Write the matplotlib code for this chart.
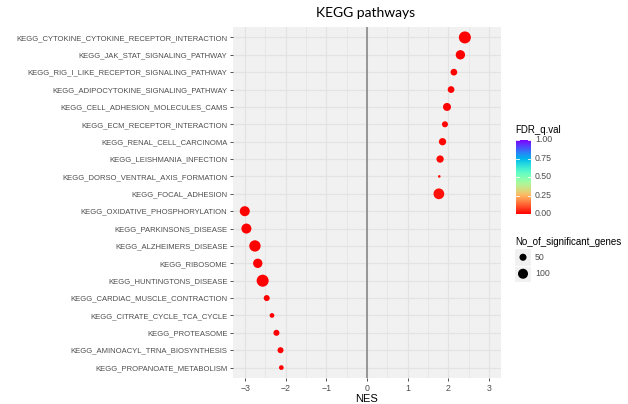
import matplotlib
matplotlib.use('Agg')
import matplotlib.pyplot as plt
import numpy as np
from matplotlib.colors import Normalize

# pathway enrichment results (top to bottom)
pathways = [
    'KEGG_CYTOKINE_CYTOKINE_RECEPTOR_INTERACTION',
    'KEGG_JAK_STAT_SIGNALING_PATHWAY',
    'KEGG_RIG_I_LIKE_RECEPTOR_SIGNALING_PATHWAY',
    'KEGG_ADIPOCYTOKINE_SIGNALING_PATHWAY',
    'KEGG_CELL_ADHESION_MOLECULES_CAMS',
    'KEGG_ECM_RECEPTOR_INTERACTION',
    'KEGG_RENAL_CELL_CARCINOMA',
    'KEGG_LEISHMANIA_INFECTION',
    'KEGG_DORSO_VENTRAL_AXIS_FORMATION',
    'KEGG_FOCAL_ADHESION',
    'KEGG_OXIDATIVE_PHOSPHORYLATION',
    'KEGG_PARKINSONS_DISEASE',
    'KEGG_ALZHEIMERS_DISEASE',
    'KEGG_RIBOSOME',
    'KEGG_HUNTINGTONS_DISEASE',
    'KEGG_CARDIAC_MUSCLE_CONTRACTION',
    'KEGG_CITRATE_CYCLE_TCA_CYCLE',
    'KEGG_PROTEASOME',
    'KEGG_AMINOACYL_TRNA_BIOSYNTHESIS',
    'KEGG_PROPANOATE_METABOLISM',
]
nes = [2.41, 2.30, 2.14, 2.07, 1.97, 1.92, 1.86, 1.80, 1.78, 1.77,
       -3.01, -2.97, -2.76, -2.69, -2.57, -2.47, -2.34, -2.23, -2.13, -2.11]
fdr_q = [0.0, 0.0, 0.0, 0.0, 0.0, 0.005, 0.01, 0.015, 0.02, 0.02,
         0.0, 0.0, 0.0, 0.0, 0.0, 0.0, 0.0, 0.0, 0.0, 0.0]
n_genes = [144, 87, 45, 45, 64, 36, 53, 53, 7, 115,
           100, 100, 128, 87, 144, 36, 22, 36, 36, 22]
size_breaks = [50, 100]
fdr_ticks = [0.0, 0.25, 0.5, 0.75, 1.0]

W, H = 628, 404
TXT = '#4D4D4D'
PANEL_BG = '#F1F1F1'
GRID = '#E3E3E3'
SANS = ['Liberation Sans', 'DejaVu Sans']


def area(n):
    # marker area in pt^2, diameter grows with sqrt(count)
    return 0.52 * np.asarray(n, dtype=float)


def fx(px):
    return px / W


def fy(py):
    return 1 - py / H


fig = plt.figure(figsize=(W / 100, H / 100), dpi=100)
ax = fig.add_axes([fx(233), fy(378), fx(501) - fx(233), fy(27) - fy(378)])

cmap = plt.get_cmap('rainbow_r')
norm = Normalize(0, 1)
ypos = np.arange(len(pathways))

ax.set_facecolor(PANEL_BG)
for v in np.arange(-3, 3.01, 1):
    ax.axvline(v, color=GRID, lw=0.9, zorder=0)
for v in np.arange(-2.5, 2.51, 1):
    ax.axvline(v, color=GRID, lw=0.5, zorder=0)
for y in ypos:
    ax.axhline(y, color=GRID, lw=0.9, zorder=0)
ax.axvline(0, color='#888888', lw=1.2, zorder=1)

ax.scatter(nes, ypos, s=area(n_genes), c=fdr_q, cmap=cmap, norm=norm,
           edgecolors='none', zorder=3)

ax.set_xlim(-3.3, 3.3)
ax.set_ylim(len(pathways) - 0.4, -0.6)
ax.set_xticks([-3, -2, -1, 0, 1, 2, 3])
ax.set_xticklabels(['\u22123', '\u22122', '\u22121', '0', '1', '2', '3'])
ax.set_yticks(ypos)
ax.set_yticklabels(pathways)
ax.tick_params(axis='both', length=2.5, width=0.6, color='#333333',
               labelcolor=TXT, pad=1.5)
ax.tick_params(axis='y', labelsize=5.5)
ax.tick_params(axis='x', labelsize=6.3)
for lab in ax.get_xticklabels() + ax.get_yticklabels():
    lab.set_family(SANS)
for s in ax.spines.values():
    s.set_visible(False)
ax.set_xlabel('NES', fontsize=8, family=SANS, color='black', labelpad=1)

fig.text(fx(366), fy(13), 'KEGG pathways', ha='center', va='center',
         fontsize=10, family=['Lato', 'DejaVu Sans'])

# colour bar for FDR_q.val
cax = fig.add_axes([fx(516), fy(214), fx(531) - fx(516), fy(140) - fy(214)])
grad = np.linspace(0, 1, 256).reshape(-1, 1)
cax.imshow(grad, aspect='auto', cmap=cmap, norm=norm, origin='lower',
           extent=[0, 1, 0, 1])
cax.set_xticks([])
cax.set_yticks([])
for s in cax.spines.values():
    s.set_visible(False)
for t in fdr_ticks:
    cax.plot([0, 0.2], [t, t], color='white', lw=0.6)
    cax.plot([0.8, 1], [t, t], color='white', lw=0.6)
    fig.text(fx(535), fy(214) + t * (fy(140) - fy(214)), f'{t:.2f}',
             ha='left', va='center', fontsize=6.3, family=SANS, color=TXT)
fig.text(fx(515), fy(130), 'FDR_q.val', ha='left', va='center',
         fontsize=7, family=SANS, color='black')

# size legend for No_of_significant_genes
fig.text(fx(515), fy(242), 'No_of_significant_genes', ha='left', va='center',
         fontsize=7, family=SANS, color='black')
lax = fig.add_axes([fx(515), fy(282), fx(531) - fx(515), fy(249) - fy(282)])
lax.set_xlim(0, 1)
lax.set_ylim(0, 2)
lax.set_facecolor(PANEL_BG)
lax.axhline(1, color='white', lw=0.8)
lax.set_xticks([])
lax.set_yticks([])
for s in lax.spines.values():
    s.set_visible(False)
for i, b in enumerate(size_breaks):
    lax.scatter([0.5], [1.5 - i], s=area([b]), color='black', edgecolors='none')
    fig.text(fx(535), fy(257 + 16 * i), str(b), ha='left', va='center',
             fontsize=6.3, family=SANS, color=TXT)

fig.savefig('out.png', dpi=100)
